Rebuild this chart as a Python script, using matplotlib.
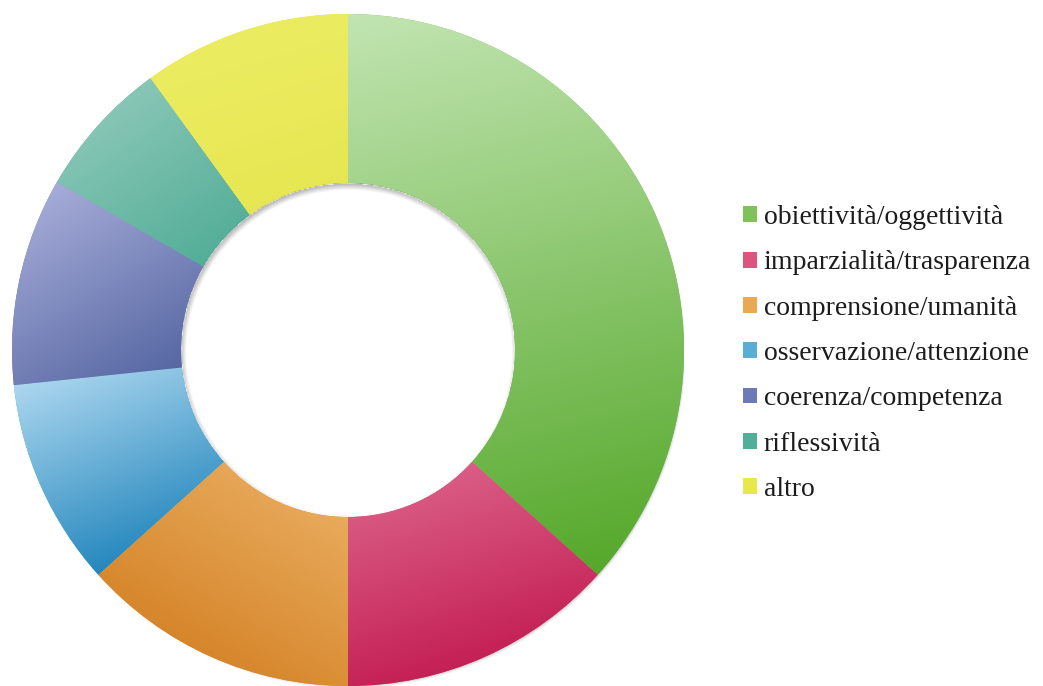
import numpy as np
import matplotlib
matplotlib.use("Agg")
import matplotlib.pyplot as plt

# risposte per categoria
labels = ["obiettività/oggettività", "imparzialità/trasparenza",
          "comprensione/umanità", "osservazione/attenzione",
          "coerenza/competenza", "riflessività", "altro"]
counts = [11, 4, 4, 3, 3, 2, 3]

# gradient stops per slice (light, dark) and direction light -> dark
light = ["#c2e5b2", "#ea8cab", "#f5c680", "#acd7ef", "#a6acd8", "#88c6b6", "#ecec62"]
dark = ["#55a82a", "#c41f55", "#d6852a", "#2487bd", "#3d5192", "#279a7e", "#e2e244"]
mid = ["#7fc25a", "#dc557f", "#eba852", "#5aaed6", "#6d7ab8", "#52ae99", "#e8e84c"]
grad_dir = [(0.25, -1), (0.3, -1), (-0.6, -1), (0.4, -1), (0.6, -1), (0.7, -1), (0.3, -1)]

W, H, DPI = 1043, 686, 100
cx, cy, R = 348, 350, 336
hole = 0.497

fig = plt.figure(figsize=(W / DPI, H / DPI), dpi=DPI)
ax = fig.add_axes([(cx - R) / W, (H - cy - R) / H, 2 * R / W, 2 * R / H])
ax.set_axis_off()

wedges, _ = ax.pie(counts, startangle=90, counterclock=False, colors=mid,
                   wedgeprops=dict(width=1 - hole, linewidth=0))
ax.set_xlim(-1, 1)
ax.set_ylim(-1, 1)

n = 500
xs = np.linspace(-1, 1, n)
X, Y = np.meshgrid(xs, xs[::-1])
rr = np.hypot(X, Y)

for w, c0, c1, d in zip(wedges, light, dark, grad_dir):
    d = np.array(d, float)
    d /= np.hypot(*d)
    verts = w.get_path().vertices
    proj = verts @ d
    t = ((X * d[0] + Y * d[1]) - proj.min()) / (proj.max() - proj.min())
    t = np.clip(t, 0, 1)[..., None]
    a = np.array(matplotlib.colors.to_rgb(c0))
    b = np.array(matplotlib.colors.to_rgb(c1))
    img = a + (b - a) * t
    im = ax.imshow(img, extent=(-1, 1, -1, 1), interpolation="bilinear", zorder=2)
    im.set_clip_path(w)

# soft drop shadow around the outer edge
s = np.array([0.007, -0.009])
do = np.hypot(X - s[0], Y - s[1])
sh = np.clip((1.0 - do) / 0.014, 0, 1) * (rr > 0.99)
shadow = np.zeros((n, n, 4))
shadow[..., :3] = 0.45
shadow[..., 3] = 0.55 * sh
ax.imshow(shadow, extent=(-1, 1, -1, 1), interpolation="bilinear", zorder=1)

# inner shadow cast into the hole
di = np.hypot(X - s[0] * 0.5, Y - s[1] * 0.9)
ish = np.clip((di - hole + 0.012) / 0.02, 0, 1) * (rr < hole)
inner = np.zeros((n, n, 4))
inner[..., :3] = 0.4
inner[..., 3] = 0.5 * ish
ax.imshow(inner, extent=(-1, 1, -1, 1), interpolation="bilinear", zorder=3)

fs = 20
leg = fig.legend(wedges, labels, loc="center left",
                 bbox_to_anchor=(743 / W, 1 - 353.5 / H),
                 frameon=False, borderpad=0, borderaxespad=0,
                 handlelength=0.5, handleheight=0.5, handletextpad=0.25,
                 labelspacing=0.73,
                 prop=dict(family="Liberation Serif", size=fs))
for t in leg.get_texts():
    t.set_color("#1c1c1c")

fig.savefig("out.png", dpi=DPI)
